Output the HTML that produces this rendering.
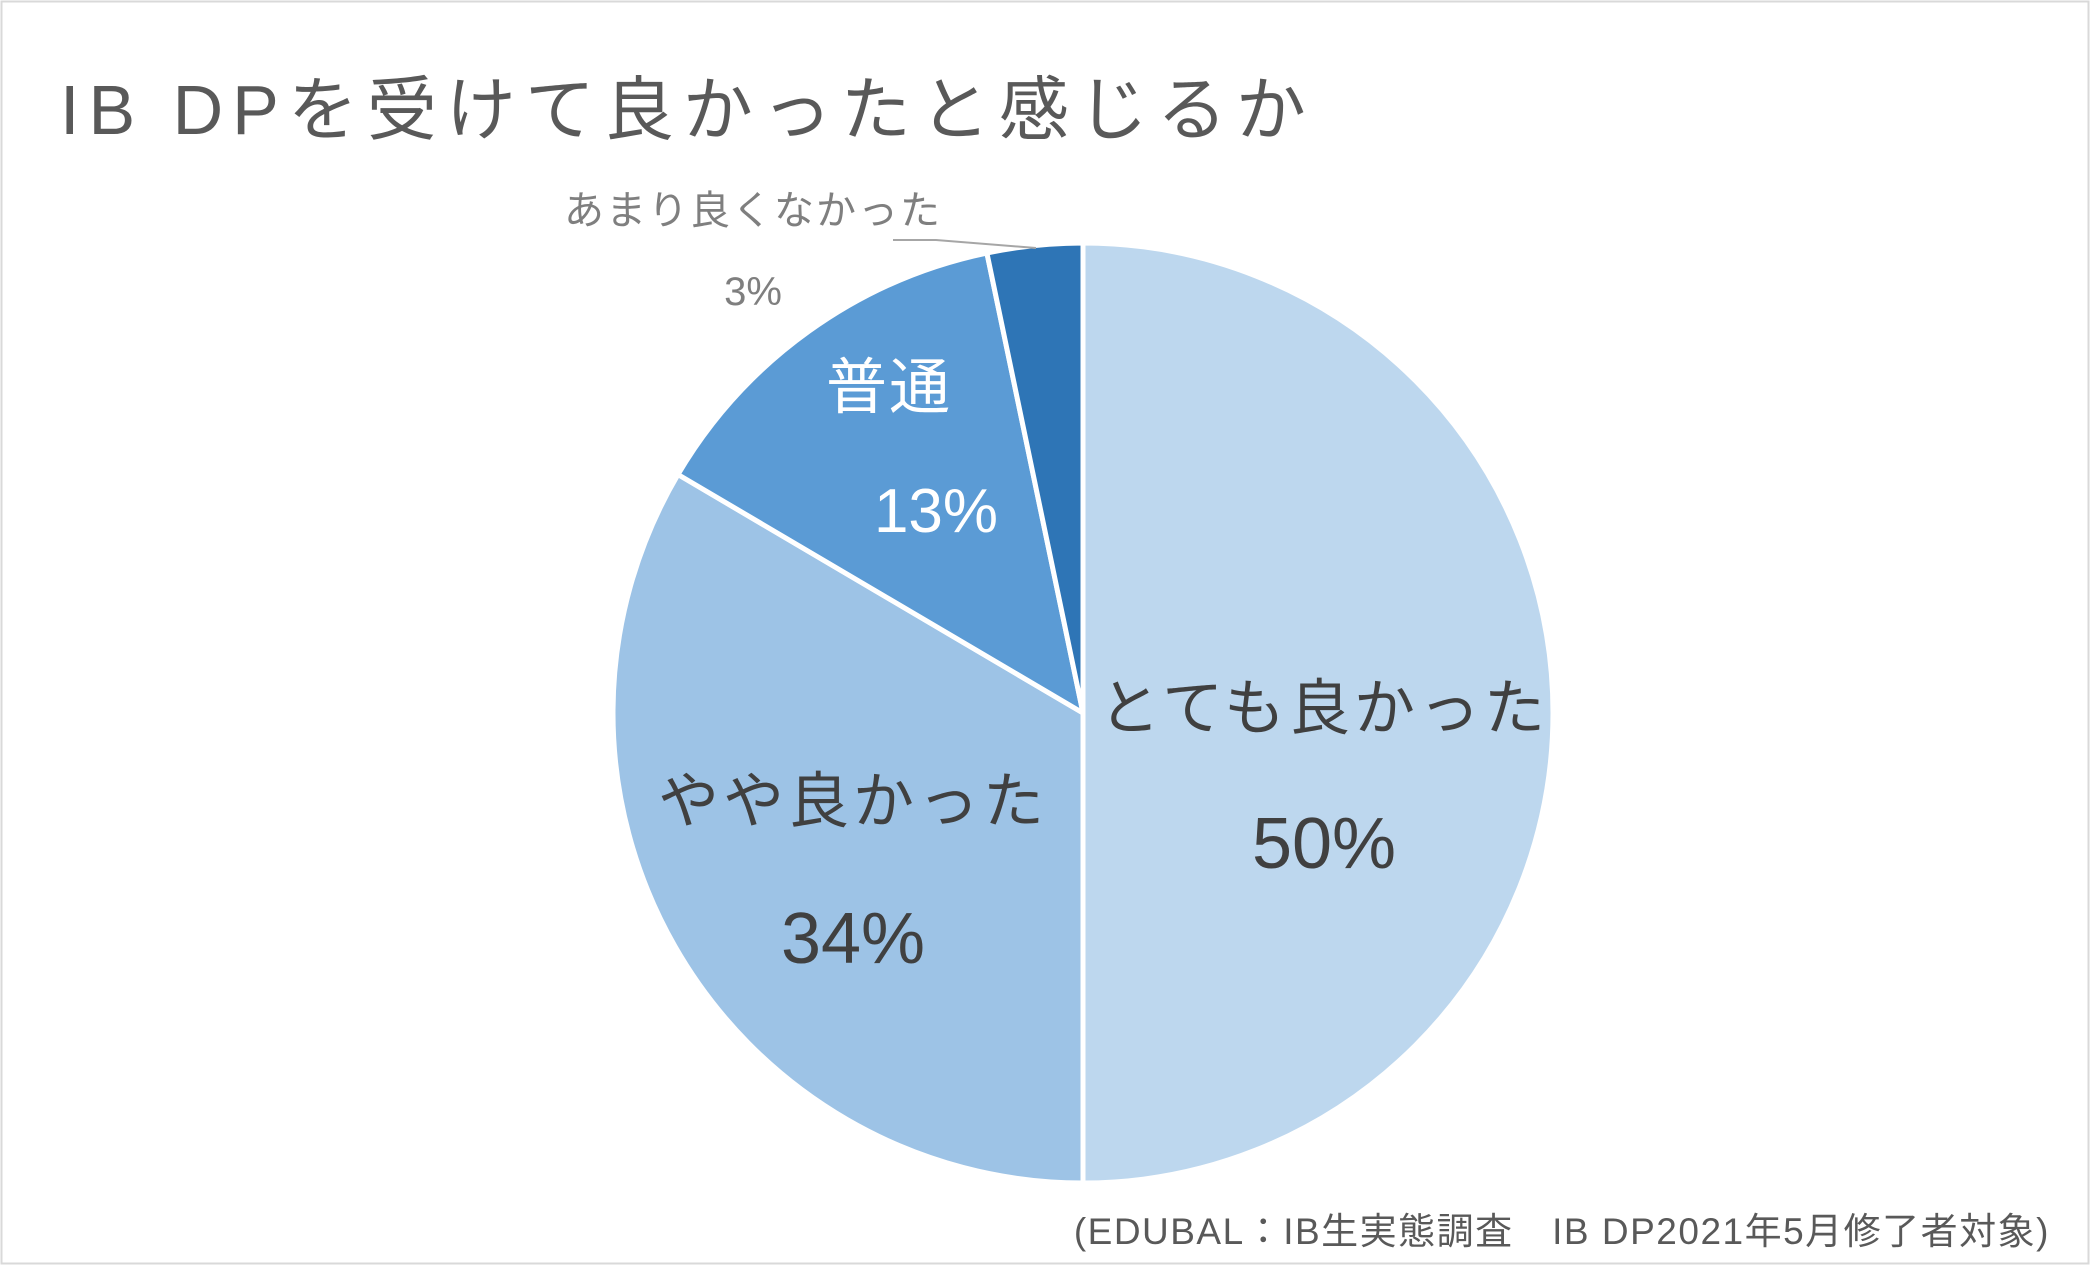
<!DOCTYPE html>
<html><head><meta charset="utf-8"><style>
html,body{margin:0;padding:0;background:#fff;}
svg{display:block;}
text{font-family:"Liberation Sans","Noto Sans CJK JP",sans-serif;}
</style></head><body>
<svg width="2090" height="1265" viewBox="0 0 2090 1265" xmlns="http://www.w3.org/2000/svg">
<rect x="1.5" y="1.5" width="2087" height="1262" fill="#fff" stroke="#d9d9d9" stroke-width="2"/>
<text x="60" y="134" font-size="70" fill="#595959" letter-spacing="9">IB DPを受けて良かったと感じるか</text>
<g stroke="#fff" stroke-width="5" stroke-linejoin="round">
<path d="M1083,713 L1083,243 A470,470 0 0 1 1083,1183 Z" fill="#BDD7EE"/>
<path d="M1083,713 L1083,1183 A470,470 0 0 1 678,474.5 Z" fill="#9DC3E6"/>
<path d="M1083,713 L678,474.5 A470,470 0 0 1 986.9,253 Z" fill="#5B9BD5"/>
<path d="M1083,713 L986.9,253 A470,470 0 0 1 1083,243 Z" fill="#2E75B6"/>
</g>
<polyline points="893,240 936,240 1036,248" fill="none" stroke="#a6a6a6" stroke-width="2"/>
<g text-anchor="middle">
<text x="1324" y="729" font-size="61" fill="#404040" letter-spacing="4">とても良かった</text>
<text x="1324" y="868" font-size="72" fill="#404040">50%</text>
<text x="853" y="822" font-size="61" fill="#404040" letter-spacing="4">やや良かった</text>
<text x="853" y="963" font-size="72" fill="#404040">34%</text>
<text x="889" y="408" font-size="61" fill="#fff" letter-spacing="2">普通</text>
<text x="936" y="532" font-size="62" fill="#fff">13%</text>
<text x="753" y="224" font-size="40" fill="#7f7f7f" letter-spacing="2">あまり良くなかった</text>
<text x="753" y="305" font-size="40" fill="#7f7f7f">3%</text>
</g>
<text x="2050" y="1244" font-size="37" fill="#595959" text-anchor="end" letter-spacing="1.5">(EDUBAL：IB生実態調査　IB DP2021年5月修了者対象)</text>
</svg>
</body></html>
